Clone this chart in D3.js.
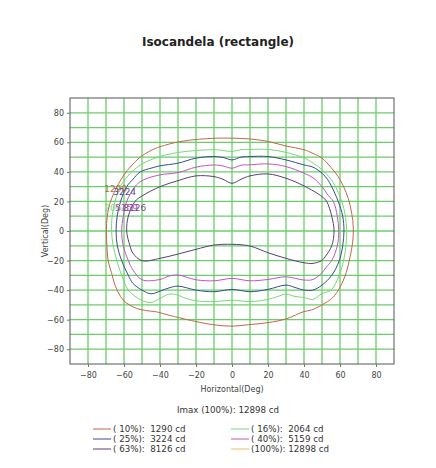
<!DOCTYPE html>
<html>
<head>
<meta charset="utf-8">
<script src="https://d3js.org/d3.v7.min.js"></script>
<style>
  body { margin: 0; background: #fff; }
  text { font-family: "DejaVu Sans", Verdana, sans-serif; }
</style>
</head>
<body>
<div id="chart"></div>
<script>
// contour levels (percent of Imax) and their candela values
var levels = ["10%", "16%", "25%", "40%", "63%", "100%"];
var candela = [1290, 2064, 3224, 5159, 8126, 12898];
var colors = ["#c2684a", "#78d878", "#3c4a8c", "#c452c4", "#5e3c78", "#e2c070"];
var imax = 12898;

// isocandela contours, [horizontal deg, vertical deg]
var c10 = [[0,62.8],[10,62.3],[20,60.6],[30,57.5],[40,55],[45,52.5],[50,49.3],[55,43],[59,36.8],[62,30],
  [64.6,22],[66.5,12],[67.4,2],[67,-8],[65.5,-18],[63.5,-28],[60,-38],[56,-45],[50,-50],[44,-53.5],
  [40,-54.5],[30,-59.5],[20,-62],[10,-63.3],[0,-64.4],[-10,-63.5],[-20,-61.3],[-30,-58.5],[-35,-57],
  [-42,-54.7],[-48,-53.8],[-53,-52.4],[-57,-50],[-60.4,-46.8],[-63,-42],[-65,-36.6],[-67,-28],
  [-68.7,-20.8],[-69.5,-10],[-69.8,0],[-69.3,10],[-68,18],[-65.5,26],[-63,32],[-60,38],[-56,44],
  [-51,50],[-45,54.5],[-40,57],[-29,60.5],[-18,62.1],[-9,62.8]];
var c16 = [[0,53.8],[5,55],[10,55.2],[20,55.2],[30,53.2],[40,49.5],[45,46],[50,41.5],[55,35],[57.5,30],
  [61,20],[63,10],[63.7,0],[63.3,-10],[62,-20],[59.6,-30],[55,-40],[50,-42.3],[45,-46.3],[40,-45],
  [35,-44.3],[30,-42.7],[25,-44.5],[20,-46.3],[10,-47.8],[0,-46.8],[-10,-47.8],[-20,-47.2],[-27,-45],
  [-30,-43.4],[-35,-42.7],[-40,-45.6],[-45,-48.4],[-50,-47],[-54,-44],[-57.6,-40],[-61.3,-30],
  [-64,-20],[-66,-10],[-66.9,0],[-66.6,10],[-65,20],[-62.2,30],[-58,37],[-55.7,40],[-50,45.4],
  [-40,50.4],[-30,53.1],[-20,54.5],[-10,55],[-5,54.5]];
var c25 = [[0,48.1],[5,50],[10,50.4],[20,50.4],[30,48.1],[40,44.7],[45,43.2],[50,39.1],[53,35],[55.4,30],
  [59,20],[61.5,10],[62.2,0],[61.5,-10],[59.6,-20],[55.4,-30],[50,-36.6],[45,-40],[40,-40],[35,-38.2],
  [30,-36.6],[20,-39.5],[10,-41.1],[0,-39.5],[-10,-41.1],[-20,-40],[-30,-37.3],[-35,-38.5],[-40,-40.7],
  [-45,-42.5],[-50,-40],[-55,-35.5],[-57.6,-30],[-61.3,-20],[-63.7,-10],[-64.4,0],[-63.8,10],
  [-61.9,20],[-58.5,30],[-55,35],[-51,40],[-45,42.5],[-40,44.1],[-30,45.9],[-20,49.3],[-10,50.4],
  [-5,49.8]];
var c40 = [[0,42.5],[5,44.5],[10,44.8],[20,45.4],[30,43.6],[40,39.1],[45,36],[50,30],[53.5,24],[56.3,20],
  [58.5,10],[59.3,0],[58.5,-10],[55.4,-20],[52,-25],[50,-28.2],[45,-32.8],[40,-33.2],[30,-31],
  [20,-32.8],[10,-33.7],[0,-32.1],[-10,-33.7],[-20,-33],[-30,-29.8],[-35,-30.5],[-40,-32.8],
  [-50,-33],[-55,-26.4],[-57.6,-20],[-60.4,-10],[-61.3,0],[-60.4,10],[-58.5,20],[-53.9,30],
  [-50,34.1],[-40,38],[-30,39.5],[-20,43.2],[-10,44.7],[-5,44]];
var c63 = [[0,32.3],[5,35],[10,37.3],[20,38.6],[30,35.7],[40,30.5],[50,23.3],[52.6,20],[55.4,10],
  [56.7,0],[55.4,-10],[52,-17],[49.8,-20],[45,-21.9],[40,-21.5],[30,-18.5],[20,-14.7],[10,-10.2],
  [0,-9],[-10,-9.5],[-20,-12.4],[-30,-15.6],[-40,-18.5],[-50,-20.1],[-55,-15.1],[-56.7,-10],
  [-58.5,0],[-57.6,10],[-53.9,20],[-50,23.7],[-40,30],[-30,34.1],[-20,37.3],[-10,36.8],[-5,35]];
var contours = [c10, c16, c25, c40, c63];

// value labels stuck to the left side of the contours
var labelText = ["1290", "3224", "2064", "5159", "8126"];
var labelPos = [[-71, 26.6], [-66, 24.2], [-71, 13.8], [-65, 13.8], [-60.4, 13.8]];
var labelColor = ["#b8703a", "#5a44a8", "#86d486", "#c04ac0", "#7a4a8e"];

var xTicks = [-80, -60, -40, -20, 0, 20, 40, 60, 80];
var yTicks = [-80, -60, -40, -20, 0, 20, 40, 60, 80];
var gridVals = d3.range(-80, 81, 10);

var width = 436, height = 468;
var margin = {left: 70, top: 98, right: 42, bottom: 104};
var w = width - margin.left - margin.right;
var h = height - margin.top - margin.bottom;

var svg = d3.select("#chart").append("svg")
    .attr("width", width)
    .attr("height", height);

svg.append("text")
    .attr("x", 218)
    .attr("y", 46)
    .attr("text-anchor", "middle")
    .style("font-size", "12px")
    .style("font-weight", "bold")
    .style("fill", "#222")
    .text("Isocandela (rectangle)");

var x = d3.scaleLinear().domain([-90, 90]).range([0, w]);
var y = d3.scaleLinear().domain([-90, 90]).range([h, 0]);

var g = svg.append("g")
    .attr("transform", "translate(" + margin.left + "," + margin.top + ")");

// grid
g.append("g").attr("class", "grid-x")
    .selectAll("line")
    .data(gridVals)
    .enter()
    .append("line")
    .attr("x1", function(d) { return x(d); })
    .attr("x2", function(d) { return x(d); })
    .attr("y1", 0)
    .attr("y2", h)
    .style("stroke", "#6ccc6c")
    .style("stroke-width", 1.3);

g.append("g").attr("class", "grid-y")
    .selectAll("line")
    .data(gridVals)
    .enter()
    .append("line")
    .attr("y1", function(d) { return y(d); })
    .attr("y2", function(d) { return y(d); })
    .attr("x1", 0)
    .attr("x2", w)
    .style("stroke", "#6ccc6c")
    .style("stroke-width", 1.3);

// contours
var line = d3.line()
    .x(function(d) { return x(d[0]); })
    .y(function(d) { return y(d[1]); })
    .curve(d3.curveCatmullRomClosed.alpha(0.5));

g.append("g").attr("class", "contours")
    .selectAll("path")
    .data(contours)
    .enter()
    .append("path")
    .attr("d", line)
    .style("fill", "none")
    .style("stroke", function(d, i) { return colors[i]; })
    .style("stroke-width", 1);

g.append("g").attr("class", "contour-labels")
    .selectAll("text")
    .data(labelText)
    .enter()
    .append("text")
    .attr("x", function(d, i) { return x(labelPos[i][0]); })
    .attr("y", function(d, i) { return y(labelPos[i][1]); })
    .style("font-size", "9px")
    .style("fill", function(d, i) { return labelColor[i]; })
    .text(function(d) { return d; });

// frame
g.append("rect")
    .attr("width", w)
    .attr("height", h)
    .style("fill", "none")
    .style("stroke", "#555")
    .style("stroke-width", 1);

// axes
var xAxis = g.append("g")
    .attr("transform", "translate(0," + h + ")")
    .call(d3.axisBottom(x).tickValues(xTicks).tickSize(3).tickPadding(5));
var yAxis = g.append("g")
    .call(d3.axisLeft(y).tickValues(yTicks).tickSize(3).tickPadding(3));

[xAxis, yAxis].forEach(function(a) {
    a.select(".domain").remove();
    a.selectAll("line").style("stroke", "#777");
    a.selectAll("text")
        .style("font-family", "'DejaVu Sans', Verdana, sans-serif")
        .style("font-size", "8px")
        .style("fill", "#444");
});

svg.append("text")
    .attr("x", margin.left + w / 2)
    .attr("y", 392)
    .attr("text-anchor", "middle")
    .style("font-size", "8px")
    .style("fill", "#444")
    .text("Horizontal(Deg)");

svg.append("text")
    .attr("transform", "translate(48," + (margin.top + h / 2) + ") rotate(-90)")
    .attr("text-anchor", "middle")
    .style("font-size", "8px")
    .style("fill", "#444")
    .text("Vertical(Deg)");

svg.append("text")
    .attr("x", 228)
    .attr("y", 413)
    .attr("text-anchor", "middle")
    .style("font-size", "8.7px")
    .style("fill", "#333")
    .text("Imax (100%): " + imax + " cd");

// legend, two columns of three: left 10/25/63, right 16/40/100
var legend = svg.append("g").attr("class", "legend")
    .selectAll("g")
    .data(levels)
    .enter()
    .append("g")
    .attr("transform", function(d, i) {
        var col = i % 2, row = Math.floor(i / 2);
        return "translate(" + (col === 0 ? 93 : 231) + "," + (429 + row * 10) + ")";
    });

legend.append("line")
    .attr("x1", 0)
    .attr("x2", 18)
    .style("stroke", function(d, i) { return colors[i]; })
    .style("stroke-width", 1);

legend.append("text")
    .attr("x", 20)
    .attr("y", 3)
    .attr("xml:space", "preserve")
    .style("white-space", "pre")
    .style("font-size", "8.7px")
    .style("fill", "#333")
    .text(function(d, i) {
        var lv = d.length < 4 ? " " + d : d;
        var num = String(candela[i]);
        while (num.length < 5) num = " " + num;
        return "(" + lv + "): " + num + " cd";
    });
</script>
</body>
</html>
